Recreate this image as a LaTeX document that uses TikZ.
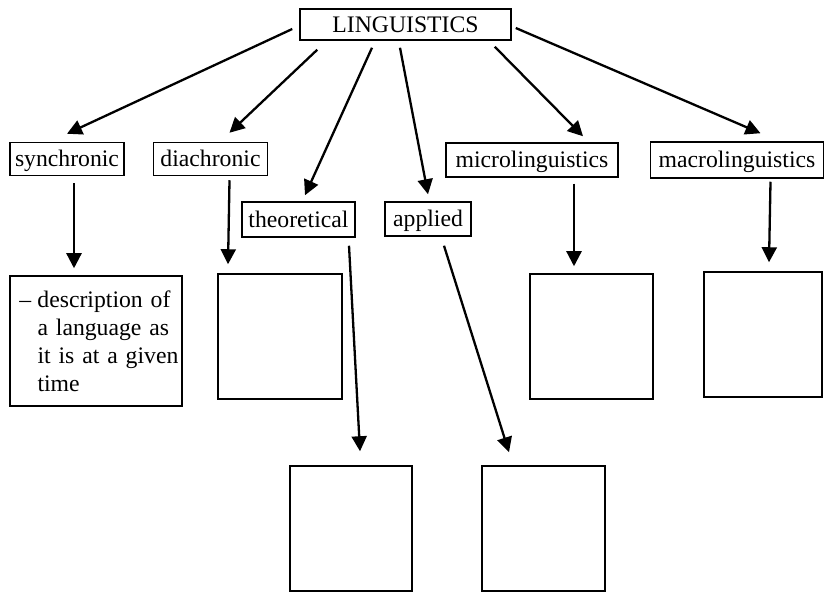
\documentclass[tikz,border=0pt]{standalone}
\usepackage{fontspec}
\setmainfont{Liberation Serif}
\usetikzlibrary{positioning,arrows.meta}

\tikzset{
	lab/.style={draw, line width=1.5pt, minimum height=33pt, inner sep=0pt, text height=18pt, text depth=2pt},
	blank/.style={draw, line width=1.5pt, minimum width=123pt, minimum height=125pt},
	arr/.style={line width=2.3pt, -{Triangle[length=15pt,width=15pt]}}
}

\begin{document}
\begin{tikzpicture}[x=1pt,y=1pt,font=\rmfamily\fontsize{23.7}{28}\selectfont]
	\useasboundingbox (0,0) rectangle (824,592);
	\node[lab, minimum width=211pt, minimum height=31pt] (ling) at (405.5,567.5) {LINGUISTICS};
	\node[lab, minimum width=114pt] (sync) at (67,433) {synchronic};
	\node[lab, minimum width=114pt, right=28pt of sync] (diac) {diachronic};
	\node[lab, minimum width=113pt, minimum height=35pt] (theo) at (298.5,372.5) {theoretical};
	\node[lab, minimum width=86pt, minimum height=34pt] (appl) at (428,373) {applied};
	\node[lab, minimum width=172pt, minimum height=34pt] (micro) at (532,432) {microlinguistics};
	\node[lab, minimum width=173pt, minimum height=36pt, right=31pt of micro] (macro) {macrolinguistics};
	% boxes under the labels
	\node[draw, line width=1.5pt, minimum width=172pt, minimum height=130pt, text width=153pt,
		inner xsep=9.5pt, align=left, below=99pt of sync.south west, anchor=north west] (desc)
		{\makebox[18pt][l]{–}\makebox[135pt][s]{description of}\\
		\hspace*{18pt}\makebox[135pt][s]{a language as}\\
		\hspace*{18pt}\makebox[135pt][s]{it is at a given}\\
		\hspace*{18pt}time};
	\node[blank, minimum width=124pt] (diacbox) at (280,255.5) {};
	\node[blank, minimum width=122pt] (theobox) at (351,63.5) {};
	\node[blank] (applbox) at (543.5,63.5) {};
	\node[blank] (microbox) at (591.5,255.5) {};
	\node[blank, minimum width=118pt] (macrobox) at (763,257.5) {};

	\draw[arr] ([shift={(-7,-4.5)}]ling.west) -- ([yshift=8pt]sync.north);
	\draw[arr] ([shift={(18,-9)}]ling.south west) -- ([shift={(19,9)}]diac.north);
	\draw[arr] ([shift={(-33.5,-7)}]ling.south) -- ([shift={(6.5,6)}]theo.north);
	\draw[arr] ([shift={(-5.5,-7)}]ling.south) -- ([yshift=7pt]appl.north);
	\draw[arr] ([shift={(-17,-6)}]ling.south east) -- ([shift={(51,6)}]micro.north);
	\draw[arr] ([shift={(4,-3.5)}]ling.east) -- ([shift={(23.5,8)}]macro.north);

	\draw[arr] ([shift={(7,-7)}]sync.south) -- ([shift={(-22,7)}]desc.north);
	\draw[arr] ([shift={(19,-4)}]diac.south) -- ([shift={(-52,9)}]diacbox.north);
	\draw[arr] ([shift={(50.5,-8)}]theo.south) -- ([shift={(9,14)}]theobox.north);
	\draw[arr] ([shift={(16,-9)}]appl.south) -- ([shift={(-34.5,13)}]applbox.north);
	\draw[arr] ([shift={(42,-6)}]micro.south) -- ([shift={(-17.5,7)}]microbox.north);
	\draw[arr] ([shift={(33.5,-3)}]macro.south) -- ([shift={(6,9)}]macrobox.north);
\end{tikzpicture}
\end{document}
